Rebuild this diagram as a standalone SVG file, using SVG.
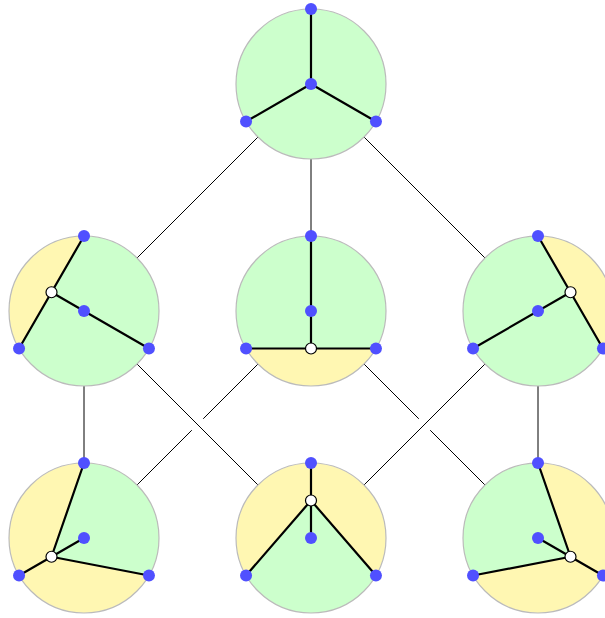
<svg xmlns="http://www.w3.org/2000/svg" width="605" height="618" viewBox="0 0 605 618">
<style>
.conn{stroke:#000;stroke-width:1;fill:none}
.g{fill:#ccffcc}
.y{fill:#fff7b2}
.rim{fill:none;stroke:#bbbbbb;stroke-width:1.2}
.e{stroke:#000;stroke-width:2.2;fill:none;stroke-linecap:round;stroke-linejoin:round}
.b{fill:#5050ff}
.w{fill:#fff;stroke:#000;stroke-width:1.2}
</style>
<rect width="605" height="618" fill="#fff"/>
<g id="connectors">
<line class="conn" x1="311" y1="84" x2="84" y2="311"/>
<line class="conn" x1="311" y1="84" x2="311" y2="311"/>
<line class="conn" x1="311" y1="84" x2="538" y2="311"/>
<line class="conn" x1="84" y1="311" x2="84" y2="538"/>
<line class="conn" x1="538" y1="311" x2="538" y2="538"/>
<line class="conn" x1="84" y1="311" x2="311" y2="538"/>
<line class="conn" x1="538" y1="311" x2="311" y2="538"/>
<line class="conn" x1="311" y1="311" x2="203.2" y2="418.8"/>
<line class="conn" x1="191.8" y1="430.2" x2="84" y2="538"/>
<line class="conn" x1="311" y1="311" x2="418.8" y2="418.8"/>
<line class="conn" x1="430.2" y1="430.2" x2="538" y2="538"/>
</g>
<g id="node-top">
<circle class="g" cx="311" cy="84" r="75"/>
<circle class="rim" cx="311" cy="84" r="75"/>
<path class="e" d="M311,9 L311,84 M246.05,121.5 L311,84 L375.95,121.5"/>
<circle class="b" cx="311" cy="9" r="6"/>
<circle class="b" cx="246.05" cy="121.5" r="6"/>
<circle class="b" cx="375.95" cy="121.5" r="6"/>
<circle class="b" cx="311" cy="84" r="6"/>
</g>
<g id="node-mid-left">
<circle class="g" cx="84" cy="311" r="75"/>
<path class="y" d="M84,236 A75,75 0 0,0 19.05,348.5 Z"/>
<circle class="rim" cx="84" cy="311" r="75"/>
<path class="e" d="M84,236 L19.05,348.5 M51.5,292.25 L148.95,348.5"/>
<circle class="b" cx="84" cy="236" r="6"/>
<circle class="b" cx="19.05" cy="348.5" r="6"/>
<circle class="b" cx="148.95" cy="348.5" r="6"/>
<circle class="b" cx="84" cy="311" r="6"/>
<circle class="w" cx="51.5" cy="292.25" r="5.5"/>
</g>
<g id="node-mid-center">
<circle class="g" cx="311" cy="311" r="75"/>
<path class="y" d="M246.05,348.5 A75,75 0 0,0 375.95,348.5 Z"/>
<circle class="rim" cx="311" cy="311" r="75"/>
<path class="e" d="M311,236 L311,348.5 M246.05,348.5 L375.95,348.5"/>
<circle class="b" cx="311" cy="236" r="6"/>
<circle class="b" cx="246.05" cy="348.5" r="6"/>
<circle class="b" cx="375.95" cy="348.5" r="6"/>
<circle class="b" cx="311" cy="311" r="6"/>
<circle class="w" cx="311" cy="348.5" r="5.5"/>
</g>
<g id="node-mid-right">
<circle class="g" cx="538" cy="311" r="75"/>
<path class="y" d="M538,236 A75,75 0 0,1 602.95,348.5 Z"/>
<circle class="rim" cx="538" cy="311" r="75"/>
<path class="e" d="M538,236 L602.95,348.5 M570.5,292.25 L473.05,348.5"/>
<circle class="b" cx="538" cy="236" r="6"/>
<circle class="b" cx="473.05" cy="348.5" r="6"/>
<circle class="b" cx="602.95" cy="348.5" r="6"/>
<circle class="b" cx="538" cy="311" r="6"/>
<circle class="w" cx="570.5" cy="292.25" r="5.5"/>
</g>
<g id="node-bot-left">
<circle class="y" cx="84" cy="538" r="75"/>
<path class="g" d="M84,463 L51.5,556.75 L148.95,575.5 A75,75 0 0,0 84,463 Z"/>
<circle class="rim" cx="84" cy="538" r="75"/>
<path class="e" d="M84,463 L51.5,556.75 L148.95,575.5 M84,538 L19.05,575.5"/>
<circle class="b" cx="84" cy="463" r="6"/>
<circle class="b" cx="19.05" cy="575.5" r="6"/>
<circle class="b" cx="148.95" cy="575.5" r="6"/>
<circle class="b" cx="84" cy="538" r="6"/>
<circle class="w" cx="51.5" cy="556.75" r="5.5"/>
</g>
<g id="node-bot-center">
<circle class="y" cx="311" cy="538" r="75"/>
<path class="g" d="M311,500.5 L246.05,575.5 A75,75 0 0,0 375.95,575.5 Z"/>
<circle class="rim" cx="311" cy="538" r="75"/>
<path class="e" d="M311,463 L311,538 M246.05,575.5 L311,500.5 L375.95,575.5"/>
<circle class="b" cx="311" cy="463" r="6"/>
<circle class="b" cx="246.05" cy="575.5" r="6"/>
<circle class="b" cx="375.95" cy="575.5" r="6"/>
<circle class="b" cx="311" cy="538" r="6"/>
<circle class="w" cx="311" cy="500.5" r="5.5"/>
</g>
<g id="node-bot-right">
<circle class="y" cx="538" cy="538" r="75"/>
<path class="g" d="M538,463 L570.5,556.75 L473.05,575.5 A75,75 0 0,1 538,463 Z"/>
<circle class="rim" cx="538" cy="538" r="75"/>
<path class="e" d="M538,463 L570.5,556.75 L473.05,575.5 M538,538 L602.95,575.5"/>
<circle class="b" cx="538" cy="463" r="6"/>
<circle class="b" cx="473.05" cy="575.5" r="6"/>
<circle class="b" cx="602.95" cy="575.5" r="6"/>
<circle class="b" cx="538" cy="538" r="6"/>
<circle class="w" cx="570.5" cy="556.75" r="5.5"/>
</g>
</svg>
